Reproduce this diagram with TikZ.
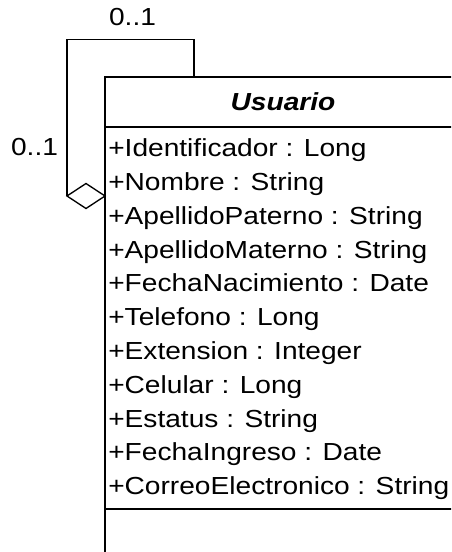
\documentclass[tikz,border=0pt]{standalone}
\usepackage{fontspec}
\usepackage{tikz}
\usetikzlibrary{shapes.geometric, positioning}
\newfontfamily\umlfont[FakeStretch=1.14]{Liberation Sans}
\definecolor{umlline}{HTML}{000000}

\begin{document}
\begin{tikzpicture}[
    x=0.75pt, y=-0.75pt,
    classbox/.style={rectangle, draw=umlline, line width=1.5pt, minimum width=267pt, minimum height=400pt, inner sep=0pt, outer sep=0pt},
    classline/.style={draw=umlline, line width=1.5pt},
    classname/.style={font=\umlfont\fontsize{18.5}{22}\selectfont\bfseries\itshape, inner sep=0pt},
    attr/.style={font=\umlfont\fontsize{18.5}{22}\selectfont, inner sep=0pt, anchor=base west},
    mult/.style={font=\umlfont\fontsize{18.5}{22}\selectfont, inner sep=0pt, anchor=base},
    aggdiamond/.style={diamond, draw=umlline, line width=1pt, fill=white, minimum width=28.5pt, minimum height=18.75pt, inner sep=0pt, outer sep=0pt},
    assoc/.style={draw=umlline, line width=1pt}
]
\useasboundingbox (0,0) rectangle (451,552);
\clip (0,0) rectangle (451,552);
\node[classbox, anchor=north west] (usuario) at (105,77) {};
\node[classname, anchor=base] (titulo) at (usuario.north |- 0,110.5) {Usuario};
\node[attr] (a1) at (108,156.7) {+Identificador : Long};
\node[attr, below=25.35pt of a1.base west, anchor=base west] (a2) {+Nombre : String};
\node[attr, below=25.35pt of a2.base west, anchor=base west] (a3) {+ApellidoPaterno : String};
\node[attr, below=25.35pt of a3.base west, anchor=base west] (a4) {+ApellidoMaterno : String};
\node[attr, below=25.35pt of a4.base west, anchor=base west] (a5) {+FechaNacimiento : Date};
\node[attr, below=25.35pt of a5.base west, anchor=base west] (a6) {+Telefono : Long};
\node[attr, below=25.35pt of a6.base west, anchor=base west] (a7) {+Extension : Integer};
\node[attr, below=25.35pt of a7.base west, anchor=base west] (a8) {+Celular : Long};
\node[attr, below=25.35pt of a8.base west, anchor=base west] (a9) {+Estatus : String};
\node[attr, below=25.35pt of a9.base west, anchor=base west] (a10) {+FechaIngreso : Date};
\node[attr, below=25.35pt of a10.base west, anchor=base west] (a11) {+CorreoElectronico : String};
\draw[classline] (usuario.west |- 0,127) -- (usuario.east |- 0,127);
\draw[classline] (usuario.west |- 0,508.5) -- (usuario.east |- 0,508.5);
\node[aggdiamond, anchor=east] (agg) at (usuario.west |- 0,196) {};
\coordinate (selfA) at (194,77);
\draw[assoc] (selfA) -- ++(0,-37.5) -| (agg.west);
\node[mult] (multtop) at (132.5,26) {0..1};
\node[mult] (multleft) at (34.5,156) {0..1};
\end{tikzpicture}
\end{document}
